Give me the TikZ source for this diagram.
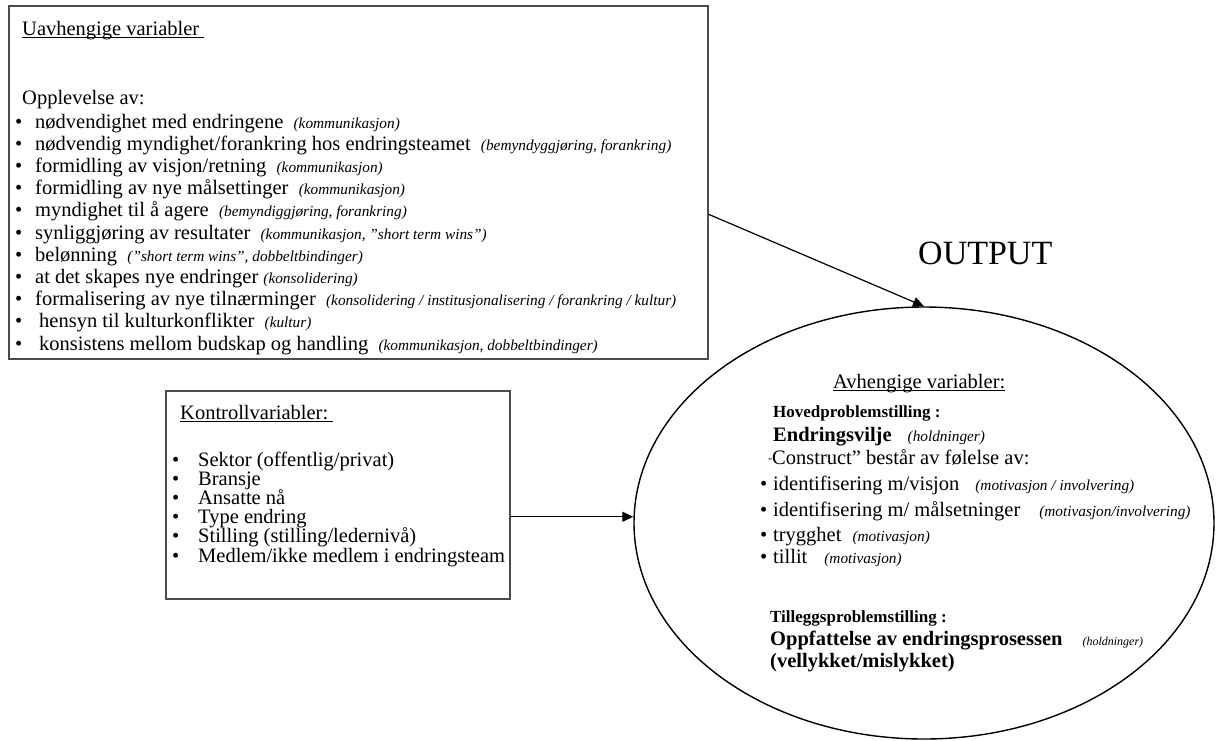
\documentclass[tikz,border=0pt]{standalone}
\usepackage{fontspec}
\setmainfont{Liberation Serif}
\usetikzlibrary{shapes.geometric,arrows.meta}

\newlength\ulwd
\newcommand{\ul}[1]{\settowidth{\ulwd}{#1}\rlap{#1}\rule[-2.5pt]{\ulwd}{1pt}}
\newcommand{\bul}[1][20pt]{\makebox[#1][l]{\textbullet}}
\newcommand{\note}[1]{{\fontsize{15.3}{16}\selectfont\itshape(#1)}}

\tikzset{
  varbox/.style={draw=black!70, line width=1.5pt, inner sep=0pt, anchor=north west},
  txt/.style={anchor=base west, inner sep=0pt, font=\fontsize{20.5}{22}\selectfont},
  subhd/.style={txt, font=\fontsize{17}{18}\selectfont\bfseries},
  pil/.style={-{Triangle[length=11pt,width=10pt]}, line width=1.2pt}
}

\begin{document}
\begin{tikzpicture}[x=1pt,y=-1pt]
\useasboundingbox (0,0) rectangle (1216,740);

% uavhengige variabler
\node[varbox, minimum width=699pt, minimum height=353pt] (uavh) at (8,5) {};
\node[txt] (uavhtit) at (22,35) {\ul{Uavhengige variabler\ }};
\node[txt] (oppl) at (22,104) {Opplevelse av:};
\node[txt] (u1) at (15,128) {\bul nødvendighet med endringene\enspace\note{kommunikasjon}};
\node[txt] (u2) at (15,150.2) {\bul nødvendig myndighet/forankring hos endringsteamet\enspace\note{bemyndyggjøring, forankring}};
\node[txt] (u3) at (15,172.4) {\bul formidling av visjon/retning\enspace\note{kommunikasjon}};
\node[txt] (u4) at (15,194.6) {\bul formidling av nye målsettinger\enspace\note{kommunikasjon}};
\node[txt] (u5) at (15,216.8) {\bul myndighet til å agere\enspace\note{bemyndiggjøring, forankring}};
\node[txt] (u6) at (15,239) {\bul synliggjøring av resultater\enspace\note{kommunikasjon, ”short term wins”}};
\node[txt] (u7) at (15,261.2) {\bul belønning\enspace\note{”short term wins”, dobbeltbindinger}};
\node[txt] (u8) at (15,283.4) {\bul at det skapes nye endringer \note{konsolidering}};
\node[txt] (u9) at (15,305.6) {\bul formalisering av nye tilnærminger\enspace\note{konsolidering / institusjonalisering / forankring / kultur}};
\node[txt] (u10) at (15,327.8) {\bul\hspace{4pt}hensyn til kulturkonflikter\enspace\note{kultur}};
\node[txt] (u11) at (15,350) {\bul\hspace{4pt}konsistens mellom budskap og handling\enspace\note{kommunikasjon, dobbeltbindinger}};

% kontrollvariabler
\node[varbox, minimum width=344pt, minimum height=208pt] (kontroll) at (165,390) {};
\node[txt] (kontit) at (180,419) {\ul{Kontrollvariabler:\ }};
\node[txt] (k1) at (172,466) {\bul[26pt]Sektor (offentlig/privat)};
\node[txt] (k2) at (172,485.2) {\bul[26pt]Bransje};
\node[txt] (k3) at (172,504.4) {\bul[26pt]Ansatte nå};
\node[txt] (k4) at (172,523.6) {\bul[26pt]Type endring};
\node[txt] (k5) at (172,542.8) {\bul[26pt]Stilling (stilling/ledernivå)};
\node[txt] (k6) at (172,562) {\bul[26pt]Medlem/ikke medlem i endringsteam};

% avhengige variabler
\node[draw, ellipse, line width=1.4pt, inner sep=0pt, minimum width=580pt, minimum height=432pt] (avh) at (924,523) {};
\node[txt, font=\fontsize{34}{34}\selectfont] (output) at (918,264) {OUTPUT};
\node[txt] (avhtit) at (833,388) {\ul{Avhengige variabler:}};
\node[subhd] (hoved) at (773,417) {Hovedproblemstilling :};
\node[txt] (vilje) at (773,441) {\textbf{Endringsvilje}\hspace{16pt}\note{holdninger}};
\node[txt] (constr) at (768,464) {{\fontsize{9}{9}\selectfont ”}Construct” består av følelse av:};
\node[txt] (a1) at (760,490) {\bul[13pt]identifisering m/visjon\hspace{16pt}\note{motivasjon / involvering}};
\node[txt] (a2) at (760,516) {\bul[13pt]identifisering m/ målsetninger\hspace{19pt}\note{motivasjon/involvering}};
\node[txt] (a3) at (760,541) {\bul[13pt]trygghet\hspace{11pt}\note{motivasjon}};
\node[txt] (a4) at (760,563) {\bul[13pt]tillit\hspace{17pt}\note{motivasjon}};
\node[subhd] (tillegg) at (770,622) {Tilleggsproblemstilling :};
\node[txt] (oppf) at (770,645) {\textbf{Oppfattelse av endringsprosessen}\hspace{20pt}{\fontsize{12}{12}\selectfont\itshape(holdninger)}};
\node[txt] (vell) at (770,667) {\textbf{(vellykket/mislykket)}};

% piler
\draw[pil] ([yshift=-32pt]uavh.east) -- (avh.north);
\draw[pil] ([yshift=-22pt]kontroll.east) coordinate (kut) -- (kut -| avh.west);
\end{tikzpicture}
\end{document}
